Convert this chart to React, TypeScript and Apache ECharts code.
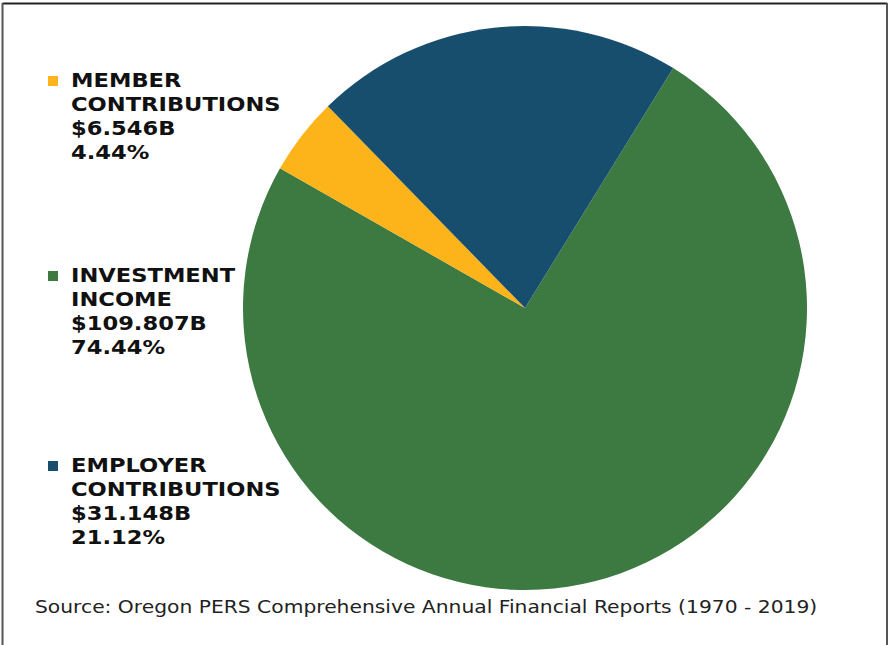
import React, { useEffect, useRef } from "react";
import * as echarts from "echarts";

const categories = ["INVESTMENT\nINCOME", "MEMBER\nCONTRIBUTIONS", "EMPLOYER\nCONTRIBUTIONS"];
const amounts = ["$109.807B", "$6.546B", "$31.148B"];
const percents = [74.44, 4.44, 21.12];
const colors = ["#3C7A42", "#FDB41A", "#174E6D"];
// legend order top to bottom
const legendOrder = [1, 0, 2];
const legendTops = [68, 263, 453];
const sourceText = "Source: Oregon PERS Comprehensive Annual Financial Reports (1970 - 2019)";

export default function App() {
  const ref = useRef<HTMLDivElement>(null);
  useEffect(() => {
    if (!ref.current) return;
    const chart = echarts.init(ref.current, null, { renderer: "svg" });
    const graphics: any[] = [];
    legendOrder.forEach((idx, k) => {
      const top = legendTops[k];
      graphics.push({
        type: "rect",
        x: 48,
        y: top + 8,
        shape: { width: 10, height: 10 },
        style: { fill: colors[idx] },
      });
      graphics.push({
        type: "text",
        x: 71,
        y: top,
        scaleX: 1.13,
        style: {
          text: categories[idx] + "\n" + amounts[idx] + "\n" + percents[idx].toFixed(2) + "%",
          font: "bold 20px 'DejaVu Sans'",
          lineHeight: 24,
          fill: "#111",
          verticalAlign: "top",
        },
      });
    });
    graphics.push({
      type: "text",
      x: 35,
      y: 598,
      scaleX: 1.127,
      style: { text: sourceText, font: "18px 'DejaVu Sans'", fill: "#222", verticalAlign: "top" },
    });
    // frame
    graphics.push({ type: "line", shape: { x1: 2.5, y1: 3.5, x2: 887, y2: 3.5 }, style: { stroke: "#222", lineWidth: 2 } });
    graphics.push({ type: "line", shape: { x1: 2.5, y1: 3, x2: 2.5, y2: 645 }, style: { stroke: "#555", lineWidth: 2 } });
    graphics.push({ type: "line", shape: { x1: 887, y1: 3, x2: 887, y2: 645 }, style: { stroke: "#555", lineWidth: 2 } });

    chart.setOption({
      animation: false,
      backgroundColor: "#fff",
      graphic: graphics,
      series: [
        {
          type: "pie",
          center: [525, 308],
          radius: [0, 282],
          startAngle: 58.3,
          clockwise: true,
          label: { show: false },
          labelLine: { show: false },
          itemStyle: { borderWidth: 0 },
          emphasis: { disabled: true },
          data: percents.map((v, i) => ({
            name: categories[i].replace("\n", " "),
            value: v,
            itemStyle: { color: colors[i] },
          })),
        },
      ],
    });
    return () => chart.dispose();
  }, []);
  return (
    <div
      ref={ref}
      style={{ position: "fixed", left: 0, top: 0, width: 890, height: 645, background: "#fff" }}
    />
  );
}
